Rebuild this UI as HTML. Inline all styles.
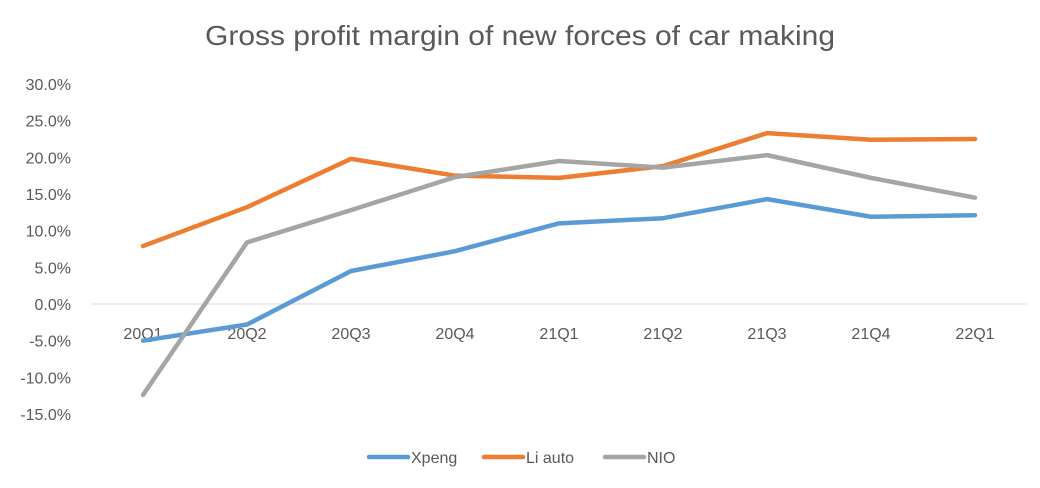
<!DOCTYPE html>
<html><head><meta charset="utf-8"><style>
body{margin:0;background:#fff;}
svg text{font-family:"Liberation Sans",sans-serif;fill:#595959;}
</style></head><body>
<svg id="c" width="1040" height="483" xmlns="http://www.w3.org/2000/svg">
<rect width="1040" height="483" fill="#fff"/>
<text x="520" y="45" text-anchor="middle" font-size="28" textLength="630" lengthAdjust="spacingAndGlyphs">Gross profit margin of new forces of car making</text>
<g id="yax"></g><g id="xax"></g><g id="lines"></g>
<g>
<g><line x1="369" y1="457" x2="408" y2="457" stroke="#5B9BD5" stroke-width="4.5" stroke-linecap="round"/><text x="411" y="463" font-size="16">Xpeng</text></g>
<g><line x1="484" y1="457" x2="523" y2="457" stroke="#ED7D31" stroke-width="4.5" stroke-linecap="round"/><text x="526" y="463" font-size="16">Li auto</text></g>
<g><line x1="605" y1="457" x2="644" y2="457" stroke="#A5A5A5" stroke-width="4.5" stroke-linecap="round"/><text x="647" y="463" font-size="16">NIO</text></g>
</g>
</svg>
<script>
const categories=["20Q1","20Q2","20Q3","20Q4","21Q1","21Q2","21Q3","21Q4","22Q1"];
const xpeng=[-5.0,-2.8,4.5,7.2,11.0,11.7,14.3,11.9,12.1];
const liAuto=[7.9,13.2,19.8,17.5,17.2,18.8,23.3,22.4,22.5];
const nio=[-12.4,8.4,12.8,17.3,19.5,18.6,20.3,17.2,14.5];
const yTicks=[30,25,20,15,10,5,0,-5,-10,-15];
const NS="http://www.w3.org/2000/svg";
const x0=91,x1=1027,band=(x1-x0)/categories.length;
const xs=i=>x0+band*(i+0.5);
const ys=v=>304-v*(220/30);
function mk(t,a,p){const e=document.createElementNS(NS,t);for(const k in a)e.setAttribute(k,a[k]);p.appendChild(e);return e;}
const yax=document.getElementById('yax'),xax=document.getElementById('xax'),lines=document.getElementById('lines');
yTicks.forEach(v=>{const t=mk('text',{x:71,y:ys(v)+6,'text-anchor':'end','font-size':16},yax);t.textContent=v.toFixed(1)+'%';

});
const zl=mk('line',{x1:x0,x2:x1,y1:ys(0),y2:ys(0),stroke:'#D9D9D9','stroke-width':1},xax);


categories.forEach((c,i)=>{const t=mk('text',{x:xs(i),y:339,'text-anchor':'middle','font-size':16},xax);t.textContent=c;

});
[[xpeng,'#5B9BD5','line-xpeng'],[liAuto,'#ED7D31','line-li-auto'],[nio,'#A5A5A5','line-nio']].forEach(([d,col,n])=>{
const p=mk('polyline',{points:d.map((v,i)=>xs(i)+','+ys(v)).join(' '),fill:'none',stroke:col,'stroke-width':4.5,'stroke-linejoin':'round','stroke-linecap':'round'},lines);

});
</script>
</body></html>
